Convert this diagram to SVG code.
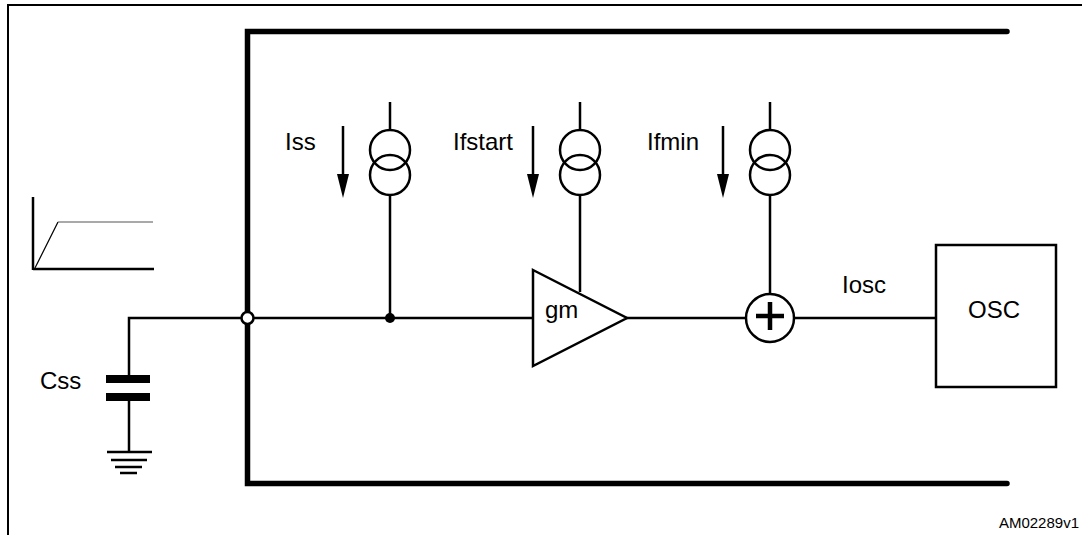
<svg xmlns="http://www.w3.org/2000/svg" width="1082" height="535" viewBox="0 0 1082 535">
<style>
.w{stroke:#000;stroke-width:2.5;fill:none}
.thick{stroke:#000;stroke-width:5.5;fill:none;stroke-linecap:round;stroke-linejoin:miter}
.cs{stroke:#000;stroke-width:2.5;fill:#fff}
.t{font-family:"Liberation Sans",Arial,sans-serif;font-size:24px;fill:#000}
</style>
<defs>
<g id="arrow">
<line x1="0" y1="0" x2="0" y2="50" stroke="#000" stroke-width="2.5"/>
<path d="M-6,48 L6,48 L0,72 Z" fill="#000"/>
</g>
</defs>
<rect x="8" y="5" width="1090" height="550" fill="none" stroke="#000" stroke-width="2"/>
<g id="ic-boundary">
<path class="thick" d="M1007,31.5 H247.5 V483.5 H1007"/>
</g>
<g id="ramp">
<line x1="33" y1="197" x2="33" y2="270" stroke="#000" stroke-width="2.5"/>
<line x1="33" y1="269" x2="154" y2="269" stroke="#000" stroke-width="2.5"/>
<line x1="35" y1="268" x2="58" y2="222" stroke="#000" stroke-width="1.2"/>
<line x1="58" y1="222" x2="153" y2="222" stroke="#555" stroke-width="1.2"/>
</g>
<g id="connectors">
<path class="w" d="M129,375 V318 H937"/>
<path class="w" d="M129,401 V452"/>
<line class="w" x1="390" y1="102" x2="390" y2="130"/>
<line class="w" x1="390" y1="195" x2="390" y2="318"/>
<line class="w" x1="580" y1="102" x2="580" y2="130"/>
<line class="w" x1="580" y1="195" x2="580" y2="292"/>
<line class="w" x1="770" y1="102" x2="770" y2="130"/>
<line class="w" x1="770" y1="195" x2="770" y2="294"/>
<use href="#arrow" x="343" y="126"/>
<use href="#arrow" x="533" y="126"/>
<use href="#arrow" x="723" y="126"/>
</g>
<g id="css">
<rect x="106" y="375" width="44" height="8" fill="#000"/>
<rect x="106" y="393" width="44" height="8" fill="#000"/>
<text class="t" x="40" y="389">Css</text>
</g>
<g id="ground">
<line x1="107" y1="452" x2="152" y2="452" stroke="#000" stroke-width="2.5"/>
<line x1="111" y1="460" x2="147" y2="460" stroke="#000" stroke-width="2.5"/>
<line x1="115" y1="467" x2="142" y2="467" stroke="#000" stroke-width="2.5"/>
<line x1="120" y1="473" x2="137" y2="473" stroke="#000" stroke-width="2.5"/>
</g>
<g id="pin">
<circle cx="247.5" cy="318" r="6" fill="#fff" stroke="#000" stroke-width="2.5"/>
</g>
<g id="node-dot">
<circle cx="390" cy="318" r="5" fill="#000"/>
</g>
<g id="iss">
<circle class="w" cx="390" cy="150" r="20"/>
<circle class="w" cx="390" cy="175" r="20"/>
<text class="t" x="285" y="150">Iss</text>
</g>
<g id="ifstart">
<circle class="w" cx="580" cy="150" r="20"/>
<circle class="w" cx="580" cy="175" r="20"/>
<text class="t" x="453" y="150">Ifstart</text>
</g>
<g id="ifmin">
<circle class="w" cx="770" cy="150" r="20"/>
<circle class="w" cx="770" cy="175" r="20"/>
<text class="t" x="647" y="150">Ifmin</text>
</g>
<g id="gm">
<path class="cs" d="M533,270 L627,318 L533,366 Z"/>
<text class="t" x="545" y="318">gm</text>
</g>
<g id="sum">
<circle class="cs" cx="770" cy="318" r="24"/>
<path d="M756,316 H784 M770,302 V330" stroke="#000" stroke-width="4.5" fill="none"/>
</g>
<g id="iosc-label">
<text class="t" x="842" y="293">Iosc</text>
</g>
<g id="osc">
<rect x="936" y="245" width="120" height="142" fill="#fff" stroke="#000" stroke-width="2.5"/>
<text class="t" x="994" y="318" text-anchor="middle">OSC</text>
</g>
<text x="1079" y="528" text-anchor="end" font-family="Liberation Sans, Arial, sans-serif" font-size="15">AM02289v1</text>
</svg>
